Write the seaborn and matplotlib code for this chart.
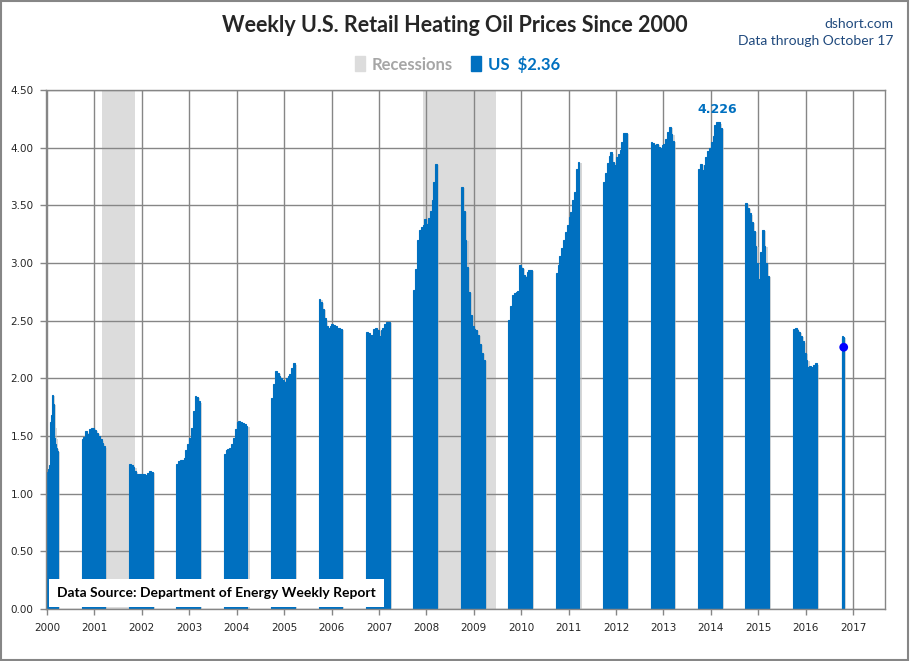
import matplotlib.pyplot as plt
import numpy as np
import pandas as pd
import seaborn as sns
from matplotlib.patches import Patch, Rectangle

# first weekly reading of each heating season and the spacing of the readings
season_starts = ['2000-01-03', '2000-09-24', '2001-09-24', '2002-09-24', '2003-09-24',
                 '2004-09-24', '2005-09-24', '2006-09-24', '2007-09-24', '2008-09-24',
                 '2009-09-24', '2010-09-24', '2011-09-24', '2012-09-24', '2013-09-24',
                 '2014-09-24', '2015-09-24', '2016-10-03']
season_steps = [7, 14, 14, 14, 14, 14, 14, 14, 14, 14, 14, 14, 14, 14, 14, 14, 14, 7]

# prices, $/gallon
w2000 = [1.19, 1.21, 1.25, 1.62, 1.68, 1.86, 1.78, 1.58, 1.48, 1.43, 1.40, 1.37]
w2001 = [1.47, 1.49, 1.54, 1.52, 1.56, 1.57, 1.57, 1.55, 1.53, 1.50, 1.47, 1.44, 1.41]
w2002 = [1.26, 1.25, 1.23, 1.20, 1.17, 1.17, 1.17, 1.17, 1.17, 1.16, 1.18, 1.20, 1.19]
w2003 = [1.26, 1.28, 1.29, 1.29, 1.31, 1.38, 1.43, 1.48, 1.57, 1.72, 1.85, 1.84, 1.80]
w2004 = [1.34, 1.38, 1.39, 1.40, 1.43, 1.48, 1.56, 1.62, 1.63, 1.62, 1.61, 1.60, 1.59]
w2005 = [1.83, 1.95, 2.06, 2.05, 2.02, 2.00, 1.99, 1.97, 2.00, 2.02, 2.04, 2.09, 2.13]
w2006 = [2.69, 2.66, 2.60, 2.52, 2.45, 2.44, 2.45, 2.47, 2.46, 2.45, 2.44, 2.44, 2.43]
w2007 = [2.40, 2.39, 2.38, 2.38, 2.43, 2.44, 2.42, 2.37, 2.42, 2.44, 2.47, 2.49, 2.49]
w2008 = [2.77, 2.95, 3.20, 3.29, 3.31, 3.33, 3.38, 3.34, 3.39, 3.45, 3.55, 3.70, 3.86]
w2009 = [3.66, 3.45, 3.20, 2.97, 2.75, 2.55, 2.45, 2.43, 2.42, 2.38, 2.30, 2.22, 2.16]
w2010 = [2.51, 2.63, 2.72, 2.74, 2.75, 2.76, 2.98, 2.96, 2.90, 2.88, 2.92, 2.94, 2.94]
w2011 = [2.91, 2.98, 3.06, 3.13, 3.20, 3.27, 3.33, 3.40, 3.44, 3.55, 3.62, 3.82, 3.88]
w2012 = [3.70, 3.78, 3.87, 3.93, 3.96, 3.88, 3.85, 3.92, 3.95, 3.98, 4.05, 4.13, 4.13]
w2013 = [4.05, 4.04, 4.02, 4.03, 4.01, 4.00, 4.02, 4.03, 4.08, 4.14, 4.18, 4.12, 4.06]
w2014 = [3.82, 3.86, 3.81, 3.85, 3.92, 3.97, 4.00, 4.05, 4.10, 4.20, 4.226, 4.22, 4.17]
w2015 = [3.52, 3.48, 3.43, 3.36, 3.28, 3.15, 3.00, 2.86, 3.10, 3.29, 3.15, 3.00, 2.89]
w2016 = [2.43, 2.44, 2.42, 2.40, 2.37, 2.32, 2.22, 2.16, 2.10, 2.11, 2.10, 2.12, 2.13]
w2017 = [2.35, 2.37, 2.36]
seasons = [w2000, w2001, w2002, w2003, w2004, w2005, w2006, w2007, w2008,
           w2009, w2010, w2011, w2012, w2013, w2014, w2015, w2016, w2017]

recession_starts = [2001.17, 2007.92]
recession_ends = [2001.85, 2009.46]
year_ticks = list(range(2000, 2018))
price_ticks = [0.0, 0.5, 1.0, 1.5, 2.0, 2.5, 3.0, 3.5, 4.0, 4.5]
latest_price = 2.36
marker_x = [2016.80]
marker_y = [2.27]

BLUE = '#0070C0'
GREY_BAND = '#DCDCDC'
GRID = '#868686'
NAVY = '#1F497D'


def decimal_year(ts):
    days = 366 if ts.is_leap_year else 365
    return ts.year + (ts.dayofyear - 1) / days


def main():
    sns.set_style('white')
    plt.rcParams['font.family'] = ['Lato', 'DejaVu Sans']

    frames = []
    for i, (start, step, vals) in enumerate(zip(season_starts, season_steps, seasons)):
        dates = pd.date_range(start, periods=len(vals), freq=f'{step}D')
        frames.append(pd.DataFrame({
            'season': i,
            'x': [decimal_year(d) for d in dates],
            'width': step / 365.25,
            'price': vals,
        }))
    df = pd.concat(frames, ignore_index=True)

    fig = plt.figure(figsize=(9.1, 6.61), dpi=100)
    ax = fig.add_axes([0.0505, 0.0787, 0.922, 0.785])

    for s, e in zip(recession_starts, recession_ends):
        ax.axvspan(s, e, color=GREY_BAND, lw=0, zorder=0)

    # soft shadow to the right, like the Excel original
    ax.bar(df['x'] + 0.045, df['price'] - 0.01, width=df['width'], align='edge',
           color='#BDBDBD', alpha=0.6, lw=0, zorder=2)
    ax.bar(df['x'], df['price'], width=df['width'], align='edge', color=BLUE,
           edgecolor=BLUE, lw=0.8, zorder=3)

    sns.scatterplot(x=marker_x, y=marker_y, color='#0000FF', s=40, edgecolor='none',
                    zorder=5, ax=ax, legend=False)

    peak = df.loc[df['price'].idxmax()]
    ax.annotate(f"{peak['price']:.3f}", (peak['x'] + 0.03, peak['price']),
                xytext=(0, 4), textcoords='offset points', ha='center', va='bottom',
                color=BLUE, fontsize=9, fontweight='bold', family='DejaVu Sans')

    ax.set_xlim(1999.979, 2017.67)
    ax.set_ylim(0, 4.5)
    ax.set_xticks(year_ticks)
    ax.set_xticklabels([str(y) for y in year_ticks], family='DejaVu Sans', fontsize=7.5)
    ax.set_yticks(price_ticks)
    ax.set_yticklabels([f'{p:.2f}' for p in price_ticks], family='DejaVu Sans', fontsize=7.5)
    ax.grid(True, color=GRID, lw=1.0)
    ax.tick_params(axis='both', which='both', direction='out', length=4, width=1,
                   color=GRID, bottom=True, left=True)
    ax.tick_params(axis='x', pad=6)
    ax.tick_params(axis='y', pad=5)
    for sp in ax.spines.values():
        sp.set_color(GRID)
        sp.set_linewidth(1.0)
        sp.set_zorder(6)

    ax.text(0.013, 0.031, 'Data Source: Department of Energy Weekly Report',
            transform=ax.transAxes, ha='left', va='center', fontsize=10,
            fontweight='bold', color='black', zorder=7,
            bbox=dict(boxstyle='square,pad=0.6', fc='white', ec='none'))

    fig.text(0.5, 0.962, 'Weekly U.S. Retail Heating Oil Prices Since 2000',
             ha='center', va='center', fontsize=15.5, fontweight='bold')
    fig.text(0.982, 0.964, 'dshort.com', ha='right', va='center', fontsize=10, color=NAVY)
    fig.text(0.982, 0.938, 'Data through October 17', ha='right', va='center',
             fontsize=10, color=NAVY)

    handles = [Patch(color=GREY_BAND), Patch(color=BLUE)]
    leg = fig.legend(handles, ['Recessions', f'US  ${latest_price:.2f}'], loc='center',
                     bbox_to_anchor=(0.503, 0.903), ncol=2, frameon=False,
                     prop=dict(family='Lato', weight='bold', size=12),
                     handlelength=0.6, handleheight=1.0, handletextpad=0.4,
                     columnspacing=1.1)
    leg.get_texts()[0].set_color('#A6A6A6')
    leg.get_texts()[1].set_color(BLUE)

    fig.patches.append(Rectangle((0.001, 0.002), 0.997, 0.996, transform=fig.transFigure,
                                 fill=False, ec=GRID, lw=1.5))

    fig.savefig('out.png', dpi=100)


if __name__ == "__main__":
    main()
